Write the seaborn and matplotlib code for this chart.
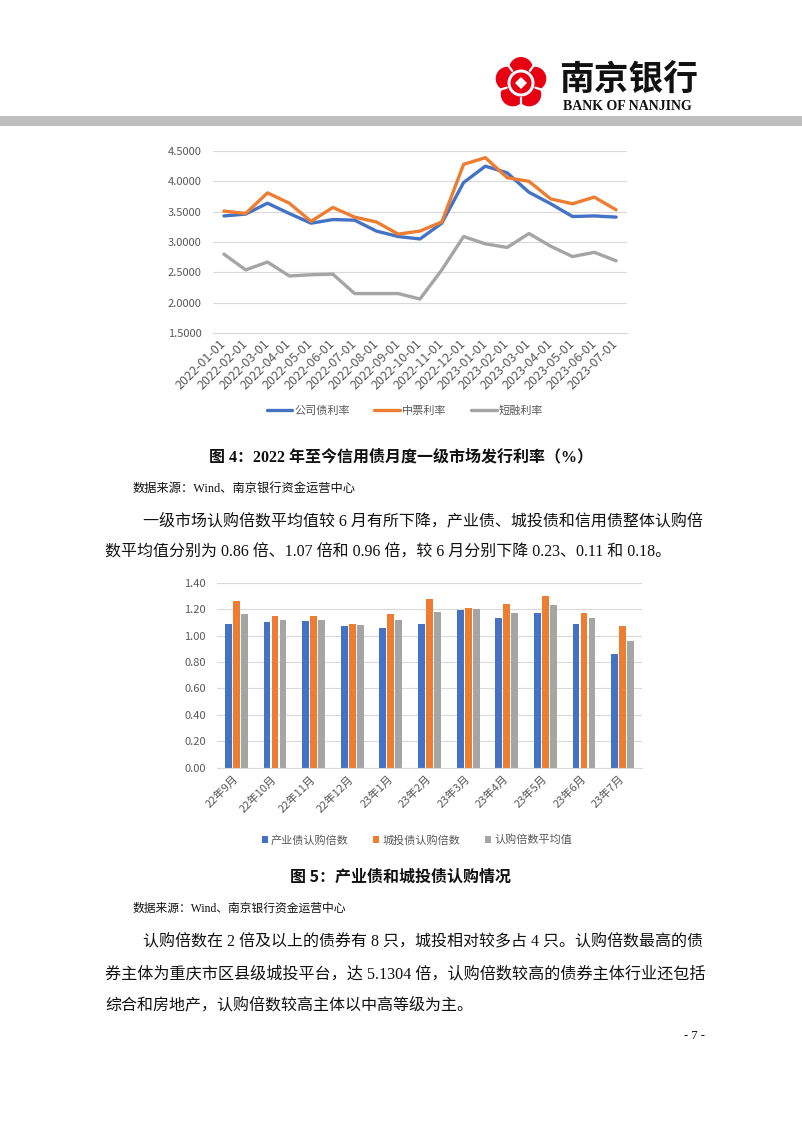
import numpy as np
import pandas as pd
import matplotlib
matplotlib.use("Agg")
import matplotlib.pyplot as plt
import seaborn as sns
from matplotlib.patches import Circle, Polygon, Rectangle, Patch
from matplotlib.lines import Line2D
from matplotlib.ticker import FixedLocator, FormatStrFormatter

# ---------------- data ----------------
dates = ['2022-01-01', '2022-02-01', '2022-03-01', '2022-04-01', '2022-05-01',
         '2022-06-01', '2022-07-01', '2022-08-01', '2022-09-01', '2022-10-01',
         '2022-11-01', '2022-12-01', '2023-01-01', '2023-02-01', '2023-03-01',
         '2023-04-01', '2023-05-01', '2023-06-01', '2023-07-01']
corp_rate = [3.43, 3.46, 3.64, 3.47, 3.31, 3.37, 3.36, 3.18, 3.09, 3.05,
             3.31, 3.98, 4.25, 4.14, 3.82, 3.63, 3.42, 3.43, 3.41]
mtn_rate = [3.51, 3.47, 3.81, 3.64, 3.34, 3.57, 3.41, 3.33, 3.13, 3.18,
            3.33, 4.28, 4.39, 4.06, 4.00, 3.71, 3.63, 3.74, 3.53]
cp_rate = [2.80, 2.54, 2.67, 2.44, 2.46, 2.47, 2.15, 2.15, 2.15, 2.06,
           2.54, 3.09, 2.97, 2.91, 3.14, 2.93, 2.76, 2.83, 2.69]
line_series = ['公司债利率', '中票利率', '短融利率']

months = ['22年9月', '22年10月', '22年11月', '22年12月', '23年1月', '23年2月',
          '23年3月', '23年4月', '23年5月', '23年6月', '23年7月']
industry_mult = [1.09, 1.10, 1.11, 1.07, 1.06, 1.09, 1.19, 1.13, 1.17, 1.09, 0.86]
urban_mult = [1.26, 1.15, 1.15, 1.09, 1.16, 1.28, 1.21, 1.24, 1.30, 1.17, 1.07]
avg_mult = [1.16, 1.12, 1.12, 1.08, 1.12, 1.18, 1.20, 1.17, 1.23, 1.13, 0.96]
bar_series = ['产业债认购倍数', '城投债认购倍数', '认购倍数平均值']

line_yticks = [1.5, 2.0, 2.5, 3.0, 3.5, 4.0, 4.5]
bar_yticks = [0.0, 0.2, 0.4, 0.6, 0.8, 1.0, 1.2, 1.4]

BLUE, ORANGE, GRAY = '#4472C4', '#ED7D31', '#A5A5A5'
TXT = '#595959'
GRID = '#D9D9D9'

# ---------------- setup ----------------
sns.set_theme(style='white')
plt.rcParams['font.family'] = ['Noto Sans CJK SC', 'DejaVu Sans']
plt.rcParams['axes.unicode_minus'] = False

W, H = 802, 1133
fig = plt.figure(figsize=(W / 100, H / 100), dpi=100)
fig.patch.set_facecolor('white')

page = fig.add_axes([0, 0, 1, 1])
page.set_xlim(0, W)
page.set_ylim(H, 0)
page.axis('off')


def fa(x0, y0, x1, y1):
    return [x0 / W, 1 - y1 / H, (x1 - x0) / W, (y1 - y0) / H]


# ---------------- header ----------------
page.add_patch(Rectangle((0, 116), W, 10, color='#BFBFBF', lw=0))
RED = '#E60012'
cx, cy = 521, 83
for k in range(5):
    a = np.deg2rad(90 + 72 * k)
    page.add_patch(Circle((cx + 14 * np.cos(a), cy - 14 * np.sin(a)), 12, color=RED, lw=0))
page.add_patch(Circle((cx, cy), 16, color=RED, lw=0))
for k in range(5):
    a = np.deg2rad(90 + 36 + 72 * k)
    page.plot([cx + 15 * np.cos(a), cx + 27 * np.cos(a)],
              [cy - 15 * np.sin(a), cy - 27 * np.sin(a)], color='white', lw=1.6)
page.add_patch(Circle((cx, cy), 13.5, color='white', lw=0))
page.add_patch(Circle((cx, cy), 10.5, color=RED, lw=0))
page.add_patch(Polygon([(cx, cy - 6), (cx + 6, cy), (cx, cy + 6), (cx - 6, cy)],
                       closed=True, color='white', lw=0))
page.text(559, 80, '南京银行', fontsize=25, fontweight='bold', color='#111111',
          ha='left', va='center', family=['Noto Sans CJK SC'])
page.text(563, 106, 'BANK OF NANJING', fontsize=10, fontweight='bold', color='#111111',
          ha='left', va='center', family=['Liberation Serif'])

# ---------------- chart 1: lines ----------------
ax1 = fig.add_axes(fa(213, 151, 627, 333))
df1 = pd.DataFrame({'idx': list(range(len(dates))) * 3,
                    'value': corp_rate + mtn_rate + cp_rate,
                    'series': [s for s in line_series for _ in dates]})
sns.lineplot(data=df1, x='idx', y='value', hue='series', hue_order=line_series,
             palette=[BLUE, ORANGE, GRAY], linewidth=2.4, ax=ax1, legend=True,
             solid_joinstyle='round', solid_capstyle='round')
ax1.set_xlim(-0.5, len(dates) - 0.5)
ax1.set_ylim(1.5, 4.5)
ax1.yaxis.set_major_locator(FixedLocator(line_yticks))
ax1.yaxis.set_major_formatter(FormatStrFormatter('%.4f'))
ax1.set_xticks(range(len(dates)))
ax1.set_xticklabels(dates)
ax1.set_xticks([i - 0.5 for i in range(len(dates) + 1)], minor=True)
ax1.grid(axis='y', color=GRID, lw=0.8)
ax1.set_axisbelow(True)
for s in ['top', 'right', 'left']:
    ax1.spines[s].set_visible(False)
ax1.spines['bottom'].set_color(GRID)
ax1.spines['bottom'].set_linewidth(0.8)
ax1.tick_params(axis='x', which='major', length=0, pad=6, labelsize=9, labelcolor=TXT)
ax1.tick_params(axis='x', which='minor', length=4, width=0.8, color=GRID, direction='out')
ax1.tick_params(axis='y', length=0, pad=8, labelsize=8, labelcolor=TXT)
for lab in ax1.get_xticklabels():
    lab.set_rotation(45)
    lab.set_ha('right')
    lab.set_va('center')
    lab.set_rotation_mode('anchor')
ax1.set_xlabel('')
ax1.set_ylabel('')
h1, l1 = ax1.get_legend_handles_labels()
ax1.legend(h1, l1, loc='center', bbox_to_anchor=(405 / W, 1 - 411 / H),
           bbox_transform=fig.transFigure, ncol=3, frameon=False, fontsize=8,
           handlelength=2.3, handletextpad=0.2, columnspacing=2.2, labelcolor=TXT)

# ---------------- chart 2: bars ----------------
ax2 = fig.add_axes(fa(217, 582.7, 642, 767.7))
df2 = pd.DataFrame({'month': months * 3,
                    'value': industry_mult + urban_mult + avg_mult,
                    'series': [s for s in bar_series for _ in months]})
sns.barplot(data=df2, x='month', y='value', hue='series', hue_order=bar_series,
            order=months, palette=[BLUE, ORANGE, GRAY], width=0.62, gap=0.15,
            saturation=1, errorbar=None, linewidth=0, ax=ax2, legend=True)
ax2.set_xlim(-0.5, len(months) - 0.5)
ax2.set_ylim(0, 1.4)
ax2.yaxis.set_major_locator(FixedLocator(bar_yticks))
ax2.yaxis.set_major_formatter(FormatStrFormatter('%.2f'))
ax2.set_xticks([i - 0.5 for i in range(len(months) + 1)], minor=True)
ax2.grid(axis='y', color=GRID, lw=0.8)
ax2.set_axisbelow(True)
for s in ['top', 'right', 'left']:
    ax2.spines[s].set_visible(False)
ax2.spines['bottom'].set_color(GRID)
ax2.spines['bottom'].set_linewidth(0.8)
ax2.tick_params(axis='x', which='major', length=0, pad=7, labelsize=8, labelcolor=TXT)
ax2.tick_params(axis='x', which='minor', length=4, width=0.8, color=GRID, direction='out')
ax2.tick_params(axis='y', length=0, pad=8, labelsize=8, labelcolor=TXT)
for lab in ax2.get_xticklabels():
    lab.set_rotation(45)
    lab.set_ha('right')
    lab.set_va('center')
    lab.set_rotation_mode('anchor')
ax2.set_xlabel('')
ax2.set_ylabel('')
h2, l2 = ax2.get_legend_handles_labels()
ax2.legend(h2, l2, loc='center', bbox_to_anchor=(417 / W, 1 - 840 / H),
           bbox_transform=fig.transFigure, ncol=3, frameon=False, fontsize=8,
           handlelength=0.55, handleheight=0.55, handletextpad=0.3,
           columnspacing=2.2, labelcolor=TXT)

# ---------------- document text ----------------
SER = ['Liberation Serif', 'Noto Sans CJK SC']
SANS = ['Noto Sans CJK SC']
page.text(401, 457, '图 4：2022 年至今信用债月度一级市场发行利率（%）', fontsize=11.5,
          fontweight='bold', ha='center', va='center', family=SER, color='#111111')
page.text(133, 489, '数据来源：Wind、南京银行资金运营中心', fontsize=8.8,
          ha='left', va='center', family=SER, color='#111111')
page.text(143, 521, '一级市场认购倍数平均值较 6 月有所下降，产业债、城投债和信用债整体认购倍',
          fontsize=11.5, ha='left', va='center', family=SER, color='#111111')
page.text(105, 553, '数平均值分别为 0.86 倍、1.07 倍和 0.96 倍，较 6 月分别下降 0.23、0.11 和 0.18。',
          fontsize=11.5, ha='left', va='center', family=SER, color='#111111')
page.text(401, 877, '图 5：产业债和城投债认购情况', fontsize=11.5, fontweight='bold',
          ha='center', va='center', family=SANS, color='#111111')
page.text(133, 909, '数据来源：Wind、南京银行资金运营中心', fontsize=8.5,
          ha='left', va='center', family=SER, color='#111111')
page.text(143, 942, '认购倍数在 2 倍及以上的债券有 8 只，城投相对较多占 4 只。认购倍数最高的债',
          fontsize=11.5, ha='left', va='center', family=SER, color='#111111')
page.text(105, 974, '券主体为重庆市区县级城投平台，达 5.1304 倍，认购倍数较高的债券主体行业还包括',
          fontsize=11.6, ha='left', va='center', family=SER, color='#111111')
page.text(105, 1005, '综合和房地产，认购倍数较高主体以中高等级为主。',
          fontsize=11.5, ha='left', va='center', family=SER, color='#111111')
page.text(705, 1036, '- 7 -', fontsize=9, ha='right', va='center', family=SER, color='#111111')

fig.savefig('out.png', dpi=100, facecolor='white')
